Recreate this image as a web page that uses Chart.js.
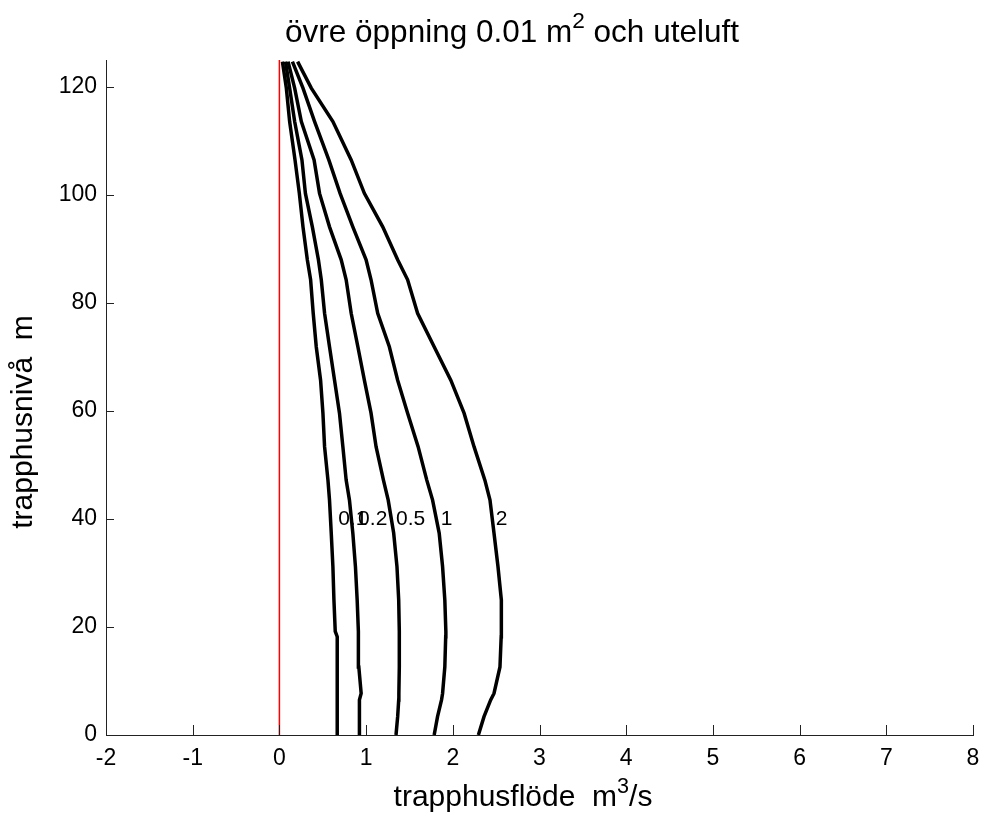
<!DOCTYPE html>
<html>
<head>
<meta charset="utf-8">
<title>trapphusflöde</title>
<script src="https://cdn.jsdelivr.net/npm/chart.js@4.4.1/dist/chart.umd.min.js"></script>
<style>
  html, body { margin: 0; padding: 0; background: #fff; }
  #wrap { width: 984px; height: 825px; }
</style>
</head>
<body>
<div id="wrap"><canvas id="flowChart"></canvas></div>
<script>
// stairwell level (m) for every sampled point
const levels = [0, 3.4, 6.5, 7.7, 12.6, 18.2, 19.2, 25, 31.2, 37.4, 43.5, 47.2, 53.4, 59.6, 65.7, 71.9, 78.1, 84.3, 88, 94.1, 100.3, 106.5, 113.6, 119.8, 124.7];

// stairwell flow (m3/s) for each curve, one value per level
const flow01 = [0.667, 0.667, 0.667, 0.667, 0.667, 0.667, 0.644, 0.629, 0.617, 0.598, 0.578, 0.560, 0.521, 0.502, 0.475, 0.425, 0.39, 0.36, 0.322, 0.272, 0.23, 0.18, 0.118, 0.080, 0.035];
const flow02 = [0.923, 0.923, 0.923, 0.943, 0.916, 0.912, 0.910, 0.897, 0.877, 0.847, 0.808, 0.770, 0.732, 0.693, 0.636, 0.578, 0.521, 0.483, 0.45, 0.38, 0.30, 0.26, 0.176, 0.118, 0.07];
const flow05 = [1.345, 1.364, 1.376, 1.378, 1.383, 1.383, 1.383, 1.376, 1.356, 1.318, 1.255, 1.20, 1.115, 1.057, 0.980, 0.905, 0.828, 0.770, 0.713, 0.578, 0.463, 0.40, 0.253, 0.176, 0.10];
const flow1 = [1.785, 1.824, 1.870, 1.882, 1.908, 1.918, 1.920, 1.908, 1.882, 1.843, 1.767, 1.70, 1.60, 1.479, 1.364, 1.268, 1.134, 1.057, 1.000, 0.847, 0.70, 0.57, 0.406, 0.272, 0.15];
const flow2 = [2.295, 2.360, 2.437, 2.475, 2.544, 2.558, 2.560, 2.560, 2.521, 2.475, 2.429, 2.37, 2.245, 2.130, 1.977, 1.785, 1.594, 1.479, 1.364, 1.192, 0.980, 0.828, 0.617, 0.368, 0.21];

// curve labels and where they sit
const curveNames = ['0.1', '0.2', '0.5', '1', '2'];
const labelX = [0.678, 0.908, 1.345, 1.862, 2.494];
const labelY = 40;

// reference line at zero flow
const zeroLineX = [0, 0];
const zeroLineY = [0, 125];

const FONT = "'Liberation Sans', Arial, Helvetica, sans-serif";
const flows = [flow01, flow02, flow05, flow1, flow2];

const datasets = [{
  data: zeroLineY.map((y, i) => ({ x: zeroLineX[i], y: y })),
  borderColor: 'rgb(255, 0, 0)',
  borderWidth: 1.5
}];
flows.forEach(f => {
  datasets.push({
    data: levels.map((y, i) => ({ x: f[i], y: y })),
    borderColor: '#000',
    borderWidth: 3.5
  });
});

// draws text pieces in a row, some of them raised as exponents
function drawRich(ctx, parts, x, y, size) {
  const widths = parts.map(p => {
    ctx.font = (p.sup ? size * 0.72 : size) + 'px ' + FONT;
    return ctx.measureText(p.t).width;
  });
  const total = widths.reduce((a, b) => a + b, 0);
  let cx = x - total / 2;
  parts.forEach((p, i) => {
    ctx.font = (p.sup ? size * 0.72 : size) + 'px ' + FONT;
    ctx.fillText(p.t, cx, p.sup ? y - size * 0.45 : y);
    cx += widths[i];
  });
}

const decorations = {
  id: 'decorations',
  afterDraw(chart) {
    const ctx = chart.ctx;
    const xs = chart.scales.x, ys = chart.scales.y;
    const area = chart.chartArea;
    ctx.save();

    // tick marks pointing into the plot
    ctx.strokeStyle = '#222';
    ctx.lineWidth = 1;
    ctx.beginPath();
    xs.ticks.forEach(t => {
      const px = Math.round(xs.getPixelForValue(t.value)) + 0.5;
      ctx.moveTo(px, area.bottom);
      ctx.lineTo(px, area.bottom - 10);
    });
    ys.ticks.forEach(t => {
      const py = Math.round(ys.getPixelForValue(t.value)) + 0.5;
      ctx.moveTo(area.left, py);
      ctx.lineTo(area.left + 8, py);
    });
    ctx.stroke();

    // curve labels
    ctx.fillStyle = '#000';
    ctx.font = '21px ' + FONT;
    ctx.textAlign = 'left';
    ctx.textBaseline = 'middle';
    curveNames.forEach((name, i) => {
      ctx.fillText(name, xs.getPixelForValue(labelX[i]), ys.getPixelForValue(labelY));
    });

    // title and axis titles
    ctx.textAlign = 'left';
    ctx.textBaseline = 'alphabetic';
    drawRich(ctx, [{ t: 'övre öppning 0.01 m' }, { t: '2', sup: true }, { t: ' och uteluft' }], 512, 42, 31.5);
    drawRich(ctx, [{ t: 'trapphusflöde  m' }, { t: '3', sup: true }, { t: '/s' }], 523, 806, 30);

    ctx.translate(32, 422);
    ctx.rotate(-Math.PI / 2);
    drawRich(ctx, [{ t: 'trapphusnivå  m' }], 0, 0, 30);
    ctx.restore();
  }
};

new Chart(document.getElementById('flowChart'), {
  type: 'scatter',
  data: { datasets: datasets },
  options: {
    responsive: true,
    maintainAspectRatio: false,
    animation: false,
    showLine: true,
    layout: { padding: { top: 60, right: 11, bottom: 0, left: 0 } },
    elements: {
      point: { radius: 0, hoverRadius: 0 },
      line: { tension: 0, fill: false }
    },
    plugins: {
      legend: { display: false },
      tooltip: { enabled: false },
      title: { display: false }
    },
    scales: {
      x: {
        type: 'linear',
        min: -2,
        max: 8,
        afterFit: s => { s.height = 90; s.paddingLeft = 0; s.paddingRight = 0; },
        grid: { display: false, drawTicks: false },
        border: { display: true, color: '#222', width: 1 },
        ticks: {
          stepSize: 1,
          includeBounds: false,
          padding: 10,
          color: '#000',
          font: { family: FONT, size: 23 }
        }
      },
      y: {
        type: 'linear',
        min: 0,
        max: 125,
        afterFit: s => { s.width = 106; },
        grid: { display: false, drawTicks: false },
        border: { display: true, color: '#222', width: 1 },
        ticks: {
          stepSize: 20,
          includeBounds: false,
          padding: 9,
          color: '#000',
          font: { family: FONT, size: 23 }
        }
      }
    }
  },
  plugins: [decorations]
});
</script>
</body>
</html>
